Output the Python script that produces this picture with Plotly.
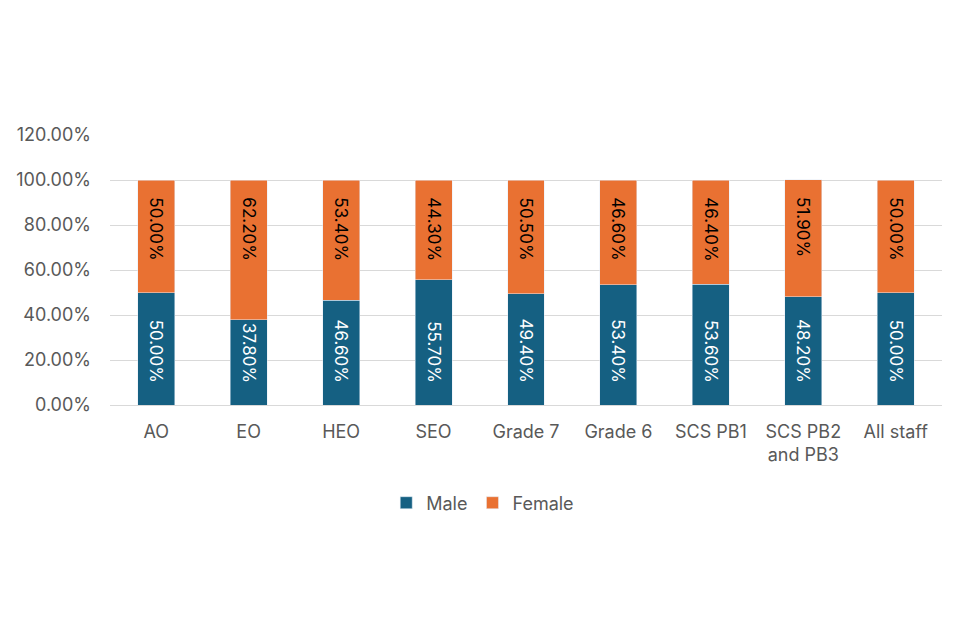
import plotly.graph_objects as go

categories = ["AO", "EO", "HEO", "SEO", "Grade 7", "Grade 6", "SCS PB1", "SCS PB2<br>and PB3", "All staff"]
male = [0.500, 0.378, 0.466, 0.557, 0.494, 0.534, 0.536, 0.482, 0.500]
female = [0.500, 0.622, 0.534, 0.443, 0.505, 0.466, 0.464, 0.519, 0.500]

FONT = "Inter, Roboto, Liberation Sans, sans-serif"
PADM = "\u00a0\u00a0\u00a0\u00a0"
PADF = "\u00a0\u00a0\u00a0"

fig = go.Figure()
fig.add_trace(go.Bar(
    name="Male", x=categories, y=male, marker_color="#156082",
    text=[f"{v*100:.2f}%{PADM}" for v in male], texttemplate="%{text}",
    textposition="inside", insidetextanchor="start", textangle=90,
    textfont=dict(color="white", size=17, family=FONT),
))
fig.add_trace(go.Bar(
    name="Female", x=categories, y=female, marker_color="#E97132",
    text=[f"{PADF}{v*100:.2f}%" for v in female], texttemplate="%{text}",
    textposition="inside", insidetextanchor="end", textangle=90,
    textfont=dict(color="black", size=17, family=FONT),
))

fig.update_layout(
    barmode="stack", bargap=0.6,
    width=960, height=640,
    margin=dict(l=102, r=26, t=127, b=243, autoexpand=False),
    plot_bgcolor="white", paper_bgcolor="white",
    font=dict(family=FONT, size=18, color="#595959"),
    showlegend=True,
    legend=dict(orientation="h", x=0.448, xanchor="center", y=-0.363, yanchor="middle",
                font=dict(size=18, color="#595959"), traceorder="normal", itemwidth=30),
    uniformtext=dict(mode=False),
)
fig.update_yaxes(range=[0, 1.2], dtick=0.2, tickformat=".2%", gridcolor="#d9d9d9",
                 gridwidth=1, zeroline=False, showline=False, ticks="",
                 automargin=False, ticklabelstandoff=18,
                 tickfont=dict(size=18, color="#595959"))
fig.update_xaxes(showline=True, linecolor="#d9d9d9", ticks="",
                 automargin=False, ticklabelstandoff=10,
                 tickfont=dict(size=18, color="#595959"))

fig.write_html("out.html")
